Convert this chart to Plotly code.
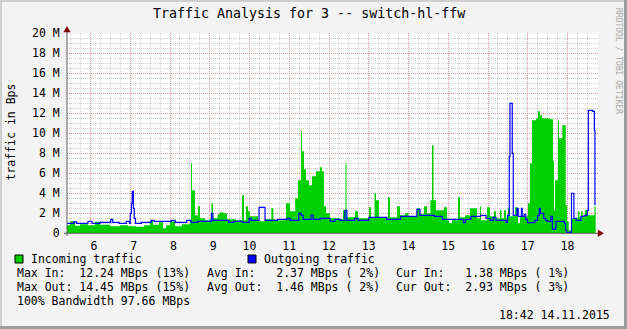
import plotly.graph_objects as go

W, H = 627, 329
PL, PR, PT, PB = 67, 598, 33.3, 233.3
MONO = "DejaVu Sans Mono"

# ---------------- data (hours of day, MBps) ----------------
in_hours = [5.409, 5.484, 5.610, 5.736, 5.937, 6.113, 6.239, 6.491, 6.750, 6.943,
            7.145, 7.350, 7.497, 7.572, 7.720, 7.824, 7.900, 8.000, 8.126, 8.300,
            8.503, 8.528, 8.553, 8.629, 8.704, 8.755, 8.881, 9.006, 9.044, 9.082,
            9.200, 9.258, 9.340, 9.434, 9.660, 9.811, 9.862, 9.912, 9.962, 10.013,
            10.214, 10.390, 10.550, 10.600, 10.642, 10.918, 11.019, 11.150, 11.220, 11.296,
            11.321, 11.371, 11.421, 11.497, 11.572, 11.673, 11.774, 11.824, 11.874, 11.925,
            12.025, 12.277, 12.352, 12.415, 12.440, 12.654, 12.730, 13.006, 13.057, 13.145,
            13.182, 13.258, 13.484, 13.535, 13.711, 13.786, 13.912, 14.000, 14.214, 14.289,
            14.390, 14.465, 14.550, 14.591, 14.629, 14.692, 14.893, 14.969, 15.019, 15.094,
            15.245, 15.296, 15.421, 15.547, 15.723, 15.799, 15.824, 15.975, 16.050, 16.151,
            16.201, 16.302, 16.340, 16.403, 16.453, 16.503, 16.553, 16.679, 16.730, 16.755,
            16.805, 17.006, 17.057, 17.107, 17.208, 17.258, 17.308, 17.358, 17.560, 17.635,
            17.660, 17.686, 17.761, 17.786, 17.870, 17.955, 17.990, 18.030, 18.113, 18.264,
            18.300, 18.340, 18.380, 18.440, 18.491, 18.679, 18.709]
in_mbps = [0.8, 1.2, 0.75, 0.9, 0.8, 1.15, 0.85, 0.7, 0.8, 0.7,
           0.65, 0.8, 1.3, 0.85, 1.1, 0.5, 0.8, 1.2, 0.7, 0.9,
           1.3, 7.0, 4.3, 1.8, 2.7, 1.5, 1.3, 1.4, 3.0, 1.5,
           1.9, 2.1, 2.0, 1.4, 1.3, 3.8, 1.3, 2.7, 2.2, 1.7,
           1.2, 1.4, 2.5, 1.4, 1.3, 3.0, 2.2, 3.5, 5.3, 10.2,
           8.2, 6.4, 5.3, 4.8, 5.7, 6.2, 6.6, 6.2, 2.7, 2.0,
           1.5, 1.4, 2.3, 7.0, 1.6, 2.2, 1.5, 2.6, 1.5, 4.0,
           3.3, 1.6, 3.6, 1.6, 2.7, 1.8, 2.0, 1.7, 2.5, 1.9,
           2.7, 2.0, 3.3, 8.8, 3.3, 2.3, 2.6, 1.3, 1.0, 1.3,
           3.6, 1.6, 1.8, 2.5, 1.5, 2.7, 1.3, 2.6, 1.7, 2.2,
           1.5, 2.3, 1.5, 2.3, 1.5, 2.5, 1.7, 2.6, 1.7, 1.0,
           1.7, 3.0, 7.0, 11.3, 11.5, 12.2, 11.8, 11.5, 11.4, 7.2,
           2.3, 5.3, 11.3, 9.5, 10.8, 2.8, 1.2, 0.3, 1.5, 2.2,
           1.6, 2.2, 1.6, 2.3, 1.8, 2.7, 1.4]

out_hours = [5.409, 5.580, 5.650, 5.937, 6.040, 6.239, 6.510, 6.560, 6.720, 6.900,
             6.980, 7.000, 7.030, 7.050, 7.080, 7.100, 7.130, 7.280, 7.530, 7.600,
             8.030, 8.130, 8.420, 8.530, 8.700, 9.040, 9.080, 9.480, 9.600, 9.820,
             9.990, 10.040, 10.240, 10.390, 10.700, 10.960, 11.020, 11.240, 11.300, 11.350,
             11.550, 11.600, 11.780, 12.030, 12.150, 12.280, 12.400, 12.450, 12.650, 12.730,
             13.000, 13.450, 13.800, 14.210, 14.290, 14.650, 14.850, 15.380, 15.430, 15.570,
             15.820, 15.950, 16.050, 16.130, 16.200, 16.450, 16.490, 16.535, 16.553, 16.610,
             16.635, 16.730, 16.760, 16.840, 16.860, 16.910, 16.950, 16.990, 17.180, 17.250,
             17.290, 17.320, 17.400, 17.450, 17.490, 17.580, 17.620, 17.700, 17.710, 17.920,
             17.950, 17.980, 18.100, 18.160, 18.220, 18.340, 18.420, 18.500, 18.524, 18.634,
             18.676, 18.690, 18.709]
out_mbps = [1.0, 1.15, 1.0, 1.2, 1.0, 1.1, 1.4, 1.1, 1.0, 1.2,
            1.0, 2.0, 3.0, 4.2, 2.5, 1.5, 1.0, 1.1, 1.3, 1.2,
            1.3, 1.1, 1.3, 1.1, 1.2, 2.0, 1.3, 1.1, 1.2, 1.1,
            1.5, 1.3, 2.6, 1.3, 1.4, 1.5, 1.3, 2.0, 1.8, 1.4,
            1.8, 1.4, 1.5, 1.2, 1.4, 1.3, 2.3, 1.3, 1.5, 1.3,
            1.6, 1.4, 1.7, 2.4, 1.8, 1.7, 1.4, 1.06, 1.4, 1.7,
            1.8, 1.5, 1.3, 1.6, 1.3, 1.1, 1.8, 7.7, 13.0, 8.0,
            1.8, 2.5, 1.7, 2.5, 1.7, 1.9, 1.4, 1.06, 1.3, 1.8,
            2.5, 2.0, 1.5, 1.3, 1.2, 1.7, 0.4, 0.6, 1.2, 1.0,
            0.3, 0.1, 4.0, 1.5, 1.3, 1.7, 1.8, 2.3, 12.3, 12.2,
            10.3, 2.9, 2.9]

hour_ticks = list(range(6, 19))
hour_labels = [f"{h:2d}".replace(" ", "\u00a0") for h in hour_ticks]
y_ticks = list(range(0, 21, 2))
y_labels = ["0"] + [f"{v}\u00a0M" for v in y_ticks[1:]]

legend_names = ["Incoming traffic", "Outgoing traffic"]
stats_rows = [
    ["Max In:  12.24 MBps (13%)", "Avg In:   2.37 MBps ( 2%)", "Cur In:   1.38 MBps ( 1%)"],
    ["Max Out: 14.45 MBps (15%)", "Avg Out:  1.46 MBps ( 2%)", "Cur Out:  2.93 MBps ( 3%)"],
]
bandwidth_note = "100% Bandwidth 97.66 MBps"
timestamp = "18:42 14.11.2015"
title_text = "Traffic Analysis for 3 -- switch-hl-ffw"

GREEN = "#00CF00"
BLUE = "#0000FF"

def nb(s):
    return s.replace(" ", "\u00a0")

def px(x):
    return x / W

def py(y):
    return 1 - y / H

fig = go.Figure()
fig.add_trace(go.Scatter(x=in_hours, y=in_mbps, mode="lines", line=dict(width=0, shape="hv", color=GREEN),
                         fill="tozeroy", fillcolor=GREEN, hoverinfo="skip", showlegend=False))
fig.add_trace(go.Scatter(x=out_hours, y=out_mbps, mode="lines", line=dict(width=1.2, shape="hv", color=BLUE),
                         hoverinfo="skip", showlegend=False))

x_range = [5.409, 18.767]
MAJ = "rgba(232,130,130,0.75)"
MIN = "rgba(150,150,150,0.45)"

fig.update_layout(
    template="none",
    width=W, height=H, margin=dict(l=0, r=0, t=0, b=0, pad=0, autoexpand=False),
    paper_bgcolor="#F3F3F3", plot_bgcolor="#FFFFFF",
    showlegend=False,
    xaxis=dict(domain=[PL / W, PR / W], range=x_range, tickmode="array", tickvals=hour_ticks,
               ticktext=hour_labels, showgrid=True, gridcolor=MAJ, griddash="1px,1px", gridwidth=1,
               minor=dict(dtick=0.25, tick0=0, showgrid=True, gridcolor=MIN, griddash="1px,1px", gridwidth=1),
               zeroline=False, showline=False, ticks="outside", ticklen=2, tickcolor="rgba(0,0,0,0)",
               automargin=False,
               tickfont=dict(family=MONO, size=11.5, color="#000")),
    yaxis=dict(domain=[py(PB), py(PT)], range=[0, 20], tickmode="array", tickvals=y_ticks,
               ticktext=y_labels, showgrid=True, gridcolor=MAJ, griddash="1px,1px", gridwidth=1,
               minor=dict(dtick=0.5, tick0=0, showgrid=True, gridcolor=MIN, griddash="1px,1px", gridwidth=1),
               zeroline=False, showline=False, ticks="outside", ticklen=4, tickcolor="rgba(0,0,0,0)",
               automargin=False,
               tickfont=dict(family=MONO, size=11.5, color="#000")),
)

shapes = []
# frame shading
shapes.append(dict(type="rect", xref="paper", yref="paper", x0=0, x1=px(2), y0=0, y1=1, fillcolor="#CFCFCF", line_width=0))
shapes.append(dict(type="rect", xref="paper", yref="paper", x0=0, x1=1, y0=py(2), y1=1, fillcolor="#CFCFCF", line_width=0))
shapes.append(dict(type="rect", xref="paper", yref="paper", x0=px(W - 3), x1=1, y0=0, y1=1, fillcolor="#9E9E9E", line_width=0))
shapes.append(dict(type="rect", xref="paper", yref="paper", x0=0, x1=1, y0=0, y1=py(H - 3), fillcolor="#9E9E9E", line_width=0))
# axes
AX = "#5A5A5A"
shapes.append(dict(type="line", xref="paper", yref="paper", x0=px(64), x1=px(600), y0=py(PB), y1=py(PB), line=dict(color=AX, width=1)))
shapes.append(dict(type="line", xref="paper", yref="paper", x0=px(PL), x1=px(PL), y0=py(236), y1=py(29), line=dict(color=AX, width=1)))
ARROW = "#7F0000"
shapes.append(dict(type="path", xref="paper", yref="paper",
                   path=f"M {px(PL)} {py(26.5)} L {px(PL-3.2)} {py(32)} L {px(PL+3.2)} {py(32)} Z",
                   fillcolor=ARROW, line=dict(color=ARROW, width=0.5)))
shapes.append(dict(type="path", xref="paper", yref="paper",
                   path=f"M {px(603.5)} {py(PB)} L {px(598)} {py(PB-3.2)} L {px(598)} {py(PB+3.2)} Z",
                   fillcolor=ARROW, line=dict(color=ARROW, width=0.5)))
# legend swatches
for x0, col in [(15, GREEN), (248, BLUE)]:
    shapes.append(dict(type="rect", xref="paper", yref="paper", x0=px(x0), x1=px(x0 + 8), y0=py(263), y1=py(255),
                       fillcolor=col, line=dict(color="#000", width=1)))
fig.update_layout(shapes=shapes)

ann = []
def txt(s, x, y, size=11.5, anchor="left", color="#000", angle=0):
    ann.append(dict(text=nb(s), x=px(x), y=py(y), xref="paper", yref="paper", xanchor=anchor, yanchor="middle",
                    showarrow=False, textangle=angle, font=dict(family=MONO, size=size, color=color), borderpad=0))

txt(title_text, 309, 13.5, size=13.3, anchor="center")
txt("traffic in Bps", 10.5, 132, anchor="center", angle=-90)
txt("RRDTOOL / TOBI OETIKER", 618.5, 60.5, size=8, anchor="center", color="#A8A8A8", angle=90)
txt(legend_names[0], 30, 259.3)
txt(legend_names[1], 263, 259.3)
for row, yy in zip(stats_rows, [273.3, 287.3]):
    for s, xx in zip(row, [16, 205.5, 394.5]):
        txt(s, xx, yy)
txt(bandwidth_note, 16, 301)
txt(timestamp, 611, 315, anchor="right")
fig.update_layout(annotations=ann)

fig.write_html("out.html")
